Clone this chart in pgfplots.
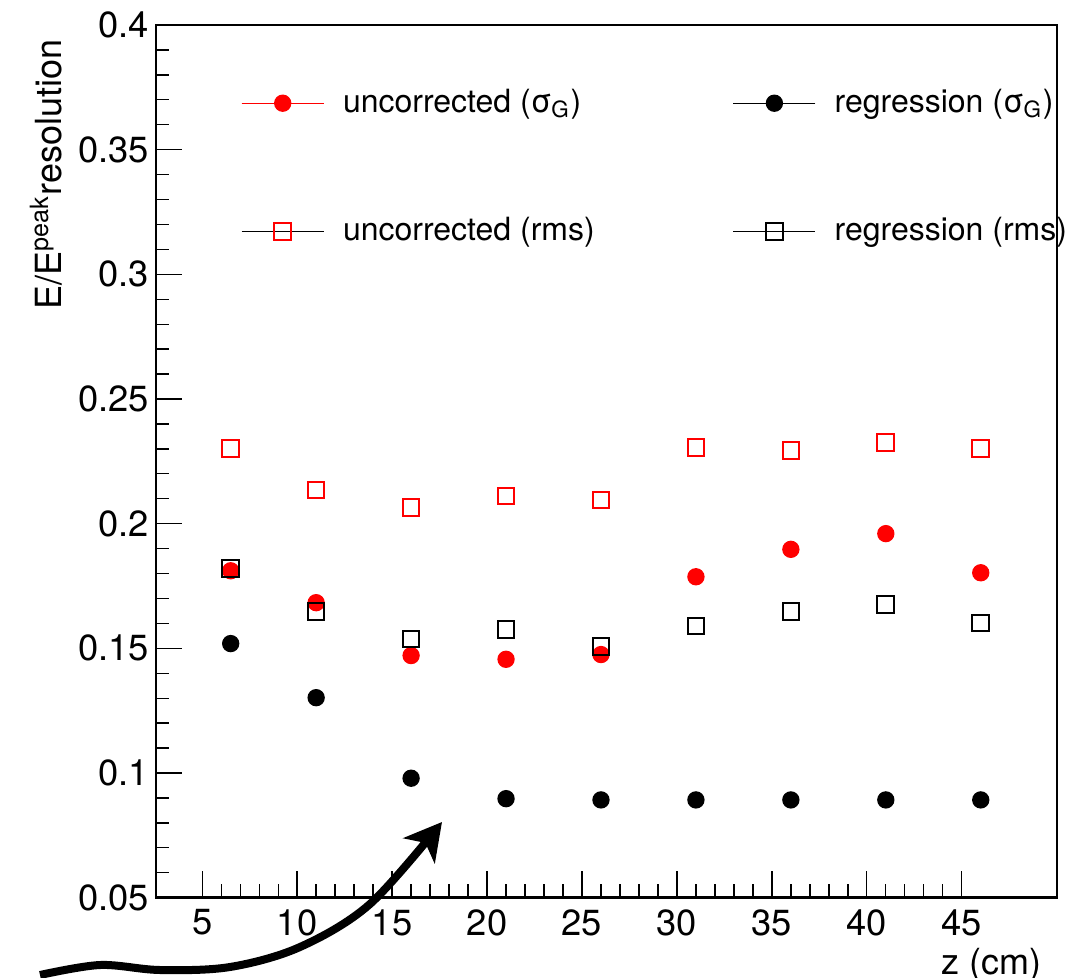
\documentclass[border=0pt]{standalone}
\usepackage{fontspec}
\setmainfont{TeX Gyre Heros}
\usepackage{pgfplots}
\pgfplotsset{compat=1.18}
\usetikzlibrary{arrows.meta}

\pgfplotstableread{
x    y
6.5  0.1811
11   0.1683
16   0.1471
21   0.1456
26   0.1475
31   0.1787
36   0.1897
41   0.1960
46   0.1803
}\uncsig
\pgfplotstableread{
x    y
6.5  0.1519
11   0.1302
16   0.0979
21   0.0897
26   0.0892
31   0.0892
36   0.0892
41   0.0892
46   0.0892
}\regsig
\pgfplotstableread{
x    y
6.5  0.2302
11   0.2135
16   0.2064
21   0.2111
26   0.2095
31   0.2305
36   0.2294
41   0.2326
46   0.2302
}\uncrms
\pgfplotstableread{
x    y
6.5  0.1821
11   0.1649
16   0.1538
21   0.1576
26   0.1508
31   0.1590
36   0.1647
41   0.1675
46   0.1602
}\regrms

\begin{document}
\begin{tikzpicture}
\begin{axis}[
  scale only axis,
  width=270.3pt, height=261.8pt,
  xmin=2.55, xmax=50, ymin=0.05, ymax=0.4,
  clip=false,
  xtick pos=bottom, ytick pos=left,
  xtick={5,10,...,45},
  ytick={0.05,0.1,...,0.41},
  yticklabels={0.05,0.1,0.15,0.2,0.25,0.3,0.35,0.4},
  minor x tick num=4,
  minor y tick num=4,
  tick align=inside,
  major tick length=8pt,
  minor tick length=4pt,
  tick style={black, line width=0.4pt},
  axis line style={line width=0.7pt},
  /pgf/number format/assume math mode=true,
  ticklabel style={font=\fontsize{10.9}{12}\selectfont},
  yticklabel style={xshift=1.5pt},
  xticklabel style={anchor=north},
  xlabel={z (cm)},
  ylabel={E/E\textsuperscript{peak}resolution},
  label style={font=\fontsize{10.8}{12}\selectfont},
  xlabel style={at={(rel axis cs:0.996,-0.088)}, anchor=base east},
  ylabel style={at={(rel axis cs:-0.1046,0.997)}, anchor=base east},
  legend columns=2,
  legend cell align=left,
  legend style={draw=none, fill=none, font=\fontsize{9.6}{11}\selectfont,
    at={(rel axis cs:0.094,0.935)}, anchor=north west, inner sep=0pt,
    row sep=25.9pt,
    /tikz/column 1/.style={column sep=3.6pt},
    /tikz/column 2/.style={column sep=39.4pt},
    /tikz/column 3/.style={column sep=3.6pt}},
]
\addplot[only marks, mark=*, mark size=2.4pt, color=red, fill=red,
  legend image code/.code={\draw[red, line width=0.4pt] (0pt,0pt) -- (24.6pt,0pt); \fill[red] (12.3pt,0pt) circle (2.4pt);}]
  table[x=x, y=y] {\uncsig};
\addlegendentry{uncorrected (σ\textsubscript{G})}
\addplot[only marks, mark=*, mark size=2.4pt, color=black, fill=black,
  legend image code/.code={\draw[black, line width=0.4pt] (0pt,0pt) -- (24.6pt,0pt); \fill[black] (12.3pt,0pt) circle (2.4pt);}]
  table[x=x, y=y] {\regsig};
\addlegendentry{regression (σ\textsubscript{G})}
\addplot[only marks, mark=square, mark size=2.5pt, color=red, mark options={line width=0.6pt},
  legend image code/.code={\draw[black, line width=0.4pt] (0pt,0pt) -- (24.6pt,0pt); \draw[red, line width=0.6pt] (9.8pt,-2.5pt) rectangle (14.8pt,2.5pt);}]
  table[x=x, y=y] {\uncrms};
\addlegendentry{uncorrected (rms)}
\addplot[only marks, mark=square, mark size=2.5pt, color=black, mark options={line width=0.6pt},
  legend image code/.code={\draw[black, line width=0.4pt] (0pt,0pt) -- (24.6pt,0pt); \draw[black, line width=0.6pt] (9.8pt,-2.5pt) rectangle (14.8pt,2.5pt);}]
  table[x=x, y=y] {\regrms};
\addlegendentry{regression (rms)}
\end{axis}
\draw[line width=0.7pt] (current axis.south west) rectangle (current axis.north east);
\begin{scope}[shift={(current axis.north west)}, x=0.3pt, y=-0.3pt]
\draw[line width=2.4pt, -{Stealth[length=11pt, width=12pt, inset=3pt]}]
  plot[smooth, tension=0.55] coordinates {(-115.7,950) (-55.7,940) (4.3,945) (74.3,942) (144.3,922) (214.3,879) (286.3,797)};
\end{scope}
\pgfresetboundingbox
\useasboundingbox ([shift={(-46.71pt,-24.09pt)}]current axis.south west) rectangle ([shift={(4.29pt,7.5pt)}]current axis.north east);
\end{tikzpicture}
\end{document}
